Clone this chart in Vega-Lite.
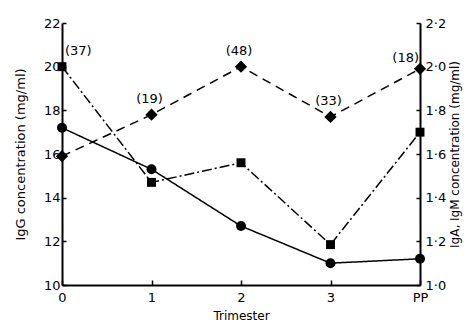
{
  "$schema": "https://vega.github.io/schema/vega-lite/v6.json",
  "width": 358,
  "height": 262,
  "autosize": {"type": "none"},
  "padding": {"left": 62, "top": 23, "right": 55, "bottom": 41},
  "background": "white",
  "config": {
    "view": {"stroke": null},
    "font": "DejaVu Sans",
    "axis": {"domainColor": "black", "domainWidth": 2, "tickColor": "black", "tickWidth": 1.5, "labelColor": "black", "titleColor": "black", "labelFont": "DejaVu Sans", "titleFont": "DejaVu Sans", "titleFontWeight": "normal", "labelFontSize": 13, "titleFontSize": 12, "grid": false}
  },
  "data": {
    "values": [
      {"series": "IgG", "t": "0", "v": 17.2, "label": ""},
      {"series": "IgG", "t": "1", "v": 15.3, "label": ""},
      {"series": "IgG", "t": "2", "v": 12.7, "label": ""},
      {"series": "IgG", "t": "3", "v": 11.0, "label": ""},
      {"series": "IgG", "t": "PP", "v": 11.2, "label": ""},
      {"series": "IgM", "t": "0", "v": 20.0, "label": "(37)"},
      {"series": "IgM", "t": "1", "v": 14.7, "label": ""},
      {"series": "IgM", "t": "2", "v": 15.6, "label": ""},
      {"series": "IgM", "t": "3", "v": 11.85, "label": ""},
      {"series": "IgM", "t": "PP", "v": 17.0, "label": ""},
      {"series": "IgA", "t": "0", "v": 15.9, "label": ""},
      {"series": "IgA", "t": "1", "v": 17.8, "label": "(19)"},
      {"series": "IgA", "t": "2", "v": 20.0, "label": "(48)"},
      {"series": "IgA", "t": "3", "v": 17.7, "label": "(33)"},
      {"series": "IgA", "t": "PP", "v": 19.9, "label": "(18)"}
    ]
  },
  "encoding": {
    "x": {"field": "t", "type": "ordinal", "sort": ["0", "1", "2", "3", "PP"], "scale": {"type": "point", "padding": 0},
      "axis": {"title": "Trimester", "labelAngle": 0, "labelPadding": 11, "tickSize": -5, "titlePadding": 6, "titleFontSize": 12}},
    "y": {"field": "v", "type": "quantitative", "scale": {"domain": [10, 22], "nice": false, "zero": false}, "axis": null}
  },
  "layer": [
    {
      "mark": {"type": "line", "color": "black", "strokeWidth": 1.5},
      "encoding": {
        "y": {"field": "v", "type": "quantitative", "scale": {"domain": [10, 22], "nice": false, "zero": false},
          "axis": {"title": "IgG concentration (mg/ml)", "titleFontSize": 13, "values": [10, 12, 14, 16, 18, 20, 22], "tickSize": -4, "labelPadding": 6, "titlePadding": 16}},
        "strokeDash": {"field": "series", "type": "nominal", "scale": {"domain": ["IgG", "IgM", "IgA"], "range": [[1, 0], [10, 3, 2, 3], [9, 6]]}, "legend": null},
        "detail": {"field": "series"}
      }
    },
    {
      "transform": [{"filter": "datum.series == 'IgG'"}],
      "mark": {"type": "point", "shape": "circle", "filled": true, "color": "black", "opacity": 1, "size": 100}
    },
    {
      "transform": [{"filter": "datum.series == 'IgM'"}],
      "mark": {"type": "point", "shape": "square", "filled": true, "color": "black", "opacity": 1, "size": 80}
    },
    {
      "transform": [{"filter": "datum.series == 'IgA'"}],
      "mark": {"type": "point", "shape": "diamond", "filled": true, "color": "black", "opacity": 1, "size": 150}
    },
    {
      "transform": [{"filter": "datum.label == '(37)'"}],
      "mark": {"type": "text", "align": "left", "baseline": "bottom", "dx": 3, "dy": -9, "fontSize": 13, "color": "black"},
      "encoding": {"text": {"field": "label"}}
    },
    {
      "transform": [{"filter": "datum.label == '(19)' || datum.label == '(48)' || datum.label == '(33)'"}],
      "mark": {"type": "text", "align": "center", "baseline": "bottom", "dx": -2, "dy": -9, "fontSize": 13, "color": "black"},
      "encoding": {"text": {"field": "label"}}
    },
    {
      "transform": [{"filter": "datum.label == '(18)'"}],
      "mark": {"type": "text", "align": "right", "baseline": "bottom", "dx": -1, "dy": -4, "fontSize": 13, "color": "black"},
      "encoding": {"text": {"field": "label"}}
    },
    {
      "mark": {"type": "point", "opacity": 0},
      "encoding": {
        "y": {"field": "v", "type": "quantitative", "scale": {"domain": [10, 22], "nice": false, "zero": false},
          "axis": {"orient": "right", "title": "IgA, IgM concentration (mg/ml)", "titleAngle": -90, "values": [10, 12, 14, 16, 18, 20, 22], "labelExpr": "replace(format(datum.value / 10, '.1f'), '.', '·')", "tickSize": -4, "labelPadding": 9, "titlePadding": 16}}
      }
    }
  ],
  "resolve": {"axis": {"y": "independent"}}
}
